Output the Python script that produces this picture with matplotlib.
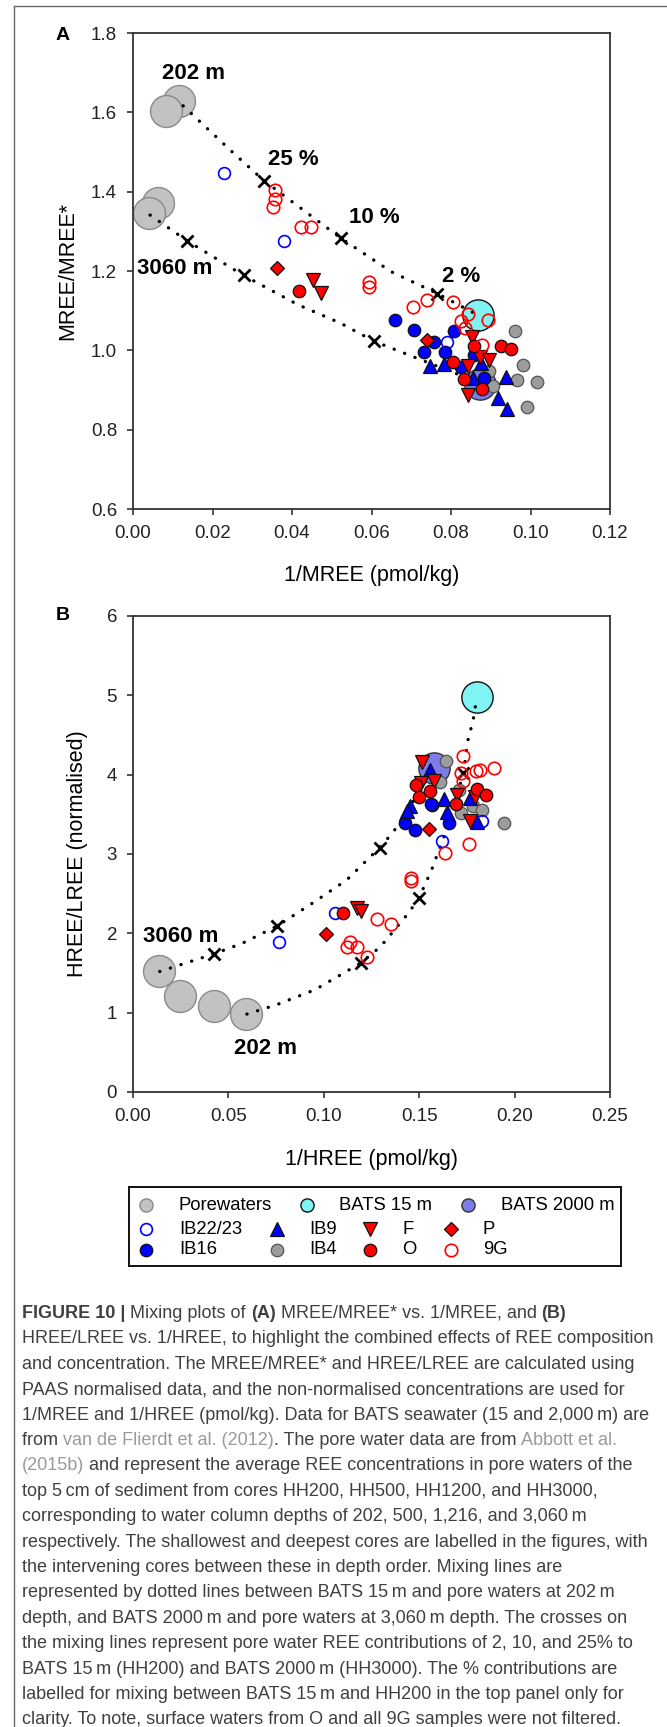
import matplotlib
matplotlib.use('Agg')
import matplotlib.pyplot as plt
from matplotlib.lines import Line2D

W, H = 667, 1727

# ---- panel A: MREE/MREE* vs 1/MREE ----
a_porewaters = [(0.0115, 1.629), (0.0083, 1.604), (0.0064, 1.371), (0.0041, 1.345)]
a_bats15 = [(0.0867, 1.089)]
a_bats2000 = [(0.0873, 0.915)]
a_ib2223 = [(0.0228, 1.4465), (0.0379, 1.2764), (0.0790, 1.0218)]
a_ib16 = [(0.0658, 1.0765), (0.0708, 1.051), (0.0808, 1.0495), (0.0758, 1.022), (0.0733, 0.9966),
          (0.0786, 0.9966), (0.0825, 0.957), (0.0858, 0.988), (0.0882, 0.929)]
a_ib9 = [(0.0748, 0.9605), (0.0782, 0.966), (0.0856, 0.929), (0.0875, 0.967), (0.0938, 0.932),
         (0.0919, 0.879), (0.0942, 0.851)]
a_f = [(0.0454, 1.1771), (0.0473, 1.1434), (0.0854, 1.034), (0.0873, 0.984), (0.0896, 0.9757),
       (0.0842, 0.9605), (0.0842, 0.887)]
a_p = [(0.0363, 1.2082), (0.0740, 1.026)]
a_ib4 = [(0.0961, 1.0495), (0.0980, 0.963), (0.0965, 0.925), (0.1017, 0.921), (0.0991, 0.858),
         (0.0896, 0.948), (0.0906, 0.910)]
a_o = [(0.0417, 1.1502), (0.0857, 1.011), (0.0925, 1.011), (0.0950, 1.0026), (0.0804, 0.971),
       (0.0833, 0.927), (0.0879, 0.9018)]
a_9g = [(0.0356, 1.4044), (0.0356, 1.3817), (0.0351, 1.3623), (0.0423, 1.3101), (0.0449, 1.3118),
        (0.0594, 1.1729), (0.0594, 1.1603), (0.0704, 1.11), (0.0739, 1.127), (0.0804, 1.1226),
        (0.0843, 1.0916), (0.0825, 1.0748), (0.0836, 1.0555), (0.0894, 1.0765), (0.0878, 1.0135)]
a_mix_shallow = [(0.0126, 1.6165), (0.0244, 1.5054), (0.0329, 1.428), (0.0468, 1.324), (0.0524, 1.282),
                 (0.065, 1.198), (0.0766, 1.143), (0.0867, 1.089)]
a_mix_deep = [(0.0043, 1.341), (0.0137, 1.2756), (0.0278, 1.189), (0.0415, 1.115), (0.0521, 1.069),
              (0.0607, 1.0227), (0.0735, 0.972), (0.082, 0.9386), (0.0873, 0.915)]
a_crosses = [(0.0329, 1.428), (0.0524, 1.282), (0.0766, 1.143),
             (0.0137, 1.2756), (0.0278, 1.189), (0.0607, 1.0227)]
a_labels = [('202 m', 0.0152, 1.697), ('25 %', 0.0404, 1.48), ('10 %', 0.0607, 1.335),
            ('2 %', 0.0826, 1.187), ('3060 m', 0.0104, 1.2066)]

# ---- panel B: HREE/LREE vs 1/HREE ----
b_porewaters = [(0.0134, 1.519), (0.0245, 1.213), (0.0425, 1.0785), (0.0592, 0.982)]
b_bats15 = [(0.1803, 4.985)]
b_bats2000 = [(0.1576, 4.084)]
b_ib2223 = [(0.1057, 2.26), (0.0767, 1.888), (0.1617, 3.168), (0.1829, 3.42)]
b_ib16 = [(0.1425, 3.395), (0.1476, 3.300), (0.1565, 3.617), (0.1655, 3.395), (0.1561, 3.631)]
b_ib9 = [(0.1558, 4.054), (0.1632, 3.694), (0.1454, 3.600), (0.1765, 3.707), (0.1435, 3.540),
         (0.1647, 3.533), (0.1803, 3.407)]
b_f = [(0.1516, 4.155), (0.1576, 3.916), (0.1510, 3.900), (0.1699, 3.748), (0.1792, 3.719),
       (0.1765, 3.42), (0.1175, 2.316), (0.1193, 2.287)]
b_p = [(0.1013, 1.988), (0.1553, 3.311)]
b_ib4 = [(0.1638, 4.168), (0.1610, 3.904), (0.1710, 3.81), (0.1783, 3.60), (0.1828, 3.554),
         (0.1946, 3.395), (0.1721, 3.512)]
b_o = [(0.1100, 2.252), (0.1483, 3.874), (0.1498, 3.719), (0.1558, 3.79), (0.1803, 3.824),
       (0.1850, 3.748), (0.1692, 3.631)]
b_9g = [(0.1732, 4.231), (0.1721, 4.021), (0.1728, 3.916), (0.1799, 4.042), (0.1821, 4.054),
        (0.1892, 4.084), (0.1278, 2.18), (0.1350, 2.114), (0.1135, 1.895), (0.1121, 1.832),
        (0.1173, 1.824), (0.1227, 1.706), (0.1458, 2.70), (0.1458, 2.665), (0.1637, 3.009),
        (0.1763, 3.122)]
b_mix_deep = [(0.014, 1.519), (0.0425, 1.7415), (0.0574, 1.876), (0.0757, 2.094), (0.0953, 2.40),
              (0.112, 2.673), (0.1293, 3.08), (0.1365, 3.28), (0.1465, 3.65), (0.1576, 4.084)]
b_mix_shallow = [(0.0597, 0.982), (0.0752, 1.0995), (0.0953, 1.288), (0.1193, 1.624), (0.1298, 1.834),
                 (0.1443, 2.2535), (0.1498, 2.442), (0.1565, 2.799), (0.161, 3.093), (0.1654, 3.366),
                 (0.1732, 4.021), (0.1754, 4.42), (0.1783, 4.69), (0.1803, 4.985)]
b_crosses = [(0.0425, 1.7415), (0.0757, 2.094), (0.1293, 3.08),
             (0.1193, 1.624), (0.1498, 2.442), (0.1732, 4.021)]
b_labels = [('3060 m', 0.0252, 1.96), ('202 m', 0.0697, 0.554)]

caption = [
    [('FIGURE 10 |', 'bold', 'k'), (' Mixing plots of ', 'normal', 'k'), ('(A)', 'bold', 'k'),
     (' MREE/MREE* vs. 1/MREE, and ', 'normal', 'k'), ('(B)', 'bold', 'k')],
    [('HREE/LREE vs. 1/HREE, to highlight the combined effects of REE composition', 'normal', 'k')],
    [('and concentration. The MREE/MREE* and HREE/LREE are calculated using', 'normal', 'k')],
    [('PAAS normalised data, and the non-normalised concentrations are used for', 'normal', 'k')],
    [('1/MREE and 1/HREE (pmol/kg). Data for BATS seawater (15 and 2,000\u2009m) are', 'normal', 'k')],
    [('from ', 'normal', 'k'), ('van de Flierdt et al. (2012)', 'normal', 'g'),
     ('. The pore water data are from ', 'normal', 'k'), ('Abbott et al.', 'normal', 'g')],
    [('(2015b)', 'normal', 'g'),
     (' and represent the average REE concentrations in pore waters of the', 'normal', 'k')],
    [('top 5\u2009cm of sediment from cores HH200, HH500, HH1200, and HH3000,', 'normal', 'k')],
    [('corresponding to water column depths of 202, 500, 1,216, and 3,060\u2009m', 'normal', 'k')],
    [('respectively. The shallowest and deepest cores are labelled in the figures, with', 'normal', 'k')],
    [('the intervening cores between these in depth order. Mixing lines are', 'normal', 'k')],
    [('represented by dotted lines between BATS 15\u2009m and pore waters at 202\u2009m', 'normal', 'k')],
    [('depth, and BATS 2000\u2009m and pore waters at 3,060\u2009m depth. The crosses on', 'normal', 'k')],
    [('the mixing lines represent pore water REE contributions of 2, 10, and 25% to', 'normal', 'k')],
    [('BATS 15\u2009m (HH200) and BATS 2000\u2009m (HH3000). The % contributions are', 'normal', 'k')],
    [('labelled for mixing between BATS 15\u2009m and HH200 in the top panel only for', 'normal', 'k')],
    [('clarity. To note, surface waters from O and all 9G samples were not filtered.', 'normal', 'k')],
]

plt.rcParams['font.family'] = ['Liberation Sans', 'DejaVu Sans']

styles = {
    'Porewaters': dict(marker='o', ms=23, mfc='#c2c2c2', mec='#8a8a8a', mew=1.0),
    'BATS 15 m': dict(marker='o', ms=22.5, mfc='#80f4f4', mec='#111111', mew=1.0),
    'BATS 2000 m': dict(marker='o', ms=22.5, mfc='#7c7ce6', mec='#333333', mew=1.0),
    'IB22/23': dict(marker='o', ms=8.5, mfc='none', mec='#0000ff', mew=1.2),
    'IB16': dict(marker='o', ms=9, mfc='#0000ff', mec='#111111', mew=0.9),
    'IB9': dict(marker='^', ms=9.5, mfc='#0000ff', mec='#111111', mew=0.9),
    'IB4': dict(marker='o', ms=9, mfc='#9c9c9c', mec='#555555', mew=0.9),
    'F': dict(marker='v', ms=9.5, mfc='#ff0000', mec='#111111', mew=0.9),
    'P': dict(marker='D', ms=7.5, mfc='#ff0000', mec='#111111', mew=0.9),
    'O': dict(marker='o', ms=9, mfc='#ff0000', mec='#111111', mew=0.9),
    '9G': dict(marker='o', ms=9, mfc='none', mec='#ff0000', mew=1.2),
}

fig = plt.figure(figsize=(W / 100, H / 100), dpi=100)
fig.patch.set_facecolor('white')


def px_axes(left, top, right, bottom):
    return fig.add_axes([left / W, 1 - bottom / H, (right - left) / W, (bottom - top) / H])


def plot_pts(ax, pts, key, z):
    xs = [p[0] for p in pts]
    ys = [p[1] for p in pts]
    ax.plot(xs, ys, ls='none', zorder=z, **styles[key])


def plot_mix(ax, pts):
    xs = [p[0] for p in pts]
    ys = [p[1] for p in pts]
    ax.plot(xs, ys, color='black', lw=2.4, ls=(0, (0.05, 3.3)), dash_capstyle='round', zorder=3)


def style_axes(ax):
    for s in ax.spines.values():
        s.set_linewidth(1.3)
        s.set_color('#333333')
    ax.tick_params(direction='out', length=4.5, width=1.1, labelsize=13.5, pad=7, colors='#222222')


def panel(ax, pw, b15, b2000, groups, mixes, crosses, labels):
    plot_pts(ax, pw, 'Porewaters', 1)
    plot_pts(ax, b15, 'BATS 15 m', 2)
    plot_pts(ax, b2000, 'BATS 2000 m', 2)
    for m in mixes:
        plot_mix(ax, m)
    ax.plot([c[0] for c in crosses], [c[1] for c in crosses], ls='none', marker='x',
            ms=9, mew=2.0, color='black', zorder=4)
    z = 5
    for key, pts in groups:
        plot_pts(ax, pts, key, z)
        z += 0.1
    for txt, x, y in labels:
        ax.text(x, y, txt, ha='center', va='center', fontsize=16, fontweight='bold', zorder=8)
    style_axes(ax)


ax_a = px_axes(133, 33, 610, 509)
panel(ax_a, a_porewaters, a_bats15, a_bats2000,
      [('IB4', a_ib4), ('IB16', a_ib16), ('IB9', a_ib9), ('IB22/23', a_ib2223), ('P', a_p),
       ('F', a_f), ('O', a_o), ('9G', a_9g)],
      [a_mix_shallow, a_mix_deep], a_crosses, a_labels)
ax_a.set_xlim(0, 0.12)
ax_a.set_ylim(0.6, 1.8)
ax_a.set_xticks([0, 0.02, 0.04, 0.06, 0.08, 0.10, 0.12])
ax_a.set_xticklabels(['0.00', '0.02', '0.04', '0.06', '0.08', '0.10', '0.12'])
ax_a.set_yticks([0.6, 0.8, 1.0, 1.2, 1.4, 1.6, 1.8])
ax_a.set_yticklabels(['0.6', '0.8', '1.0', '1.2', '1.4', '1.6', '1.8'])
ax_a.set_xlabel('1/MREE (pmol/kg)', fontsize=15.5, va='center')
ax_a.xaxis.set_label_coords(0.5, (509 - 575) / 476)
ax_a.set_ylabel('MREE/MREE*', fontsize=15.5, va='center')
ax_a.yaxis.set_label_coords((68 - 133) / 477, 0.5)

ax_b = px_axes(133, 616, 610, 1092)
panel(ax_b, b_porewaters, b_bats15, b_bats2000,
      [('IB4', b_ib4), ('IB16', b_ib16), ('IB9', b_ib9), ('IB22/23', b_ib2223), ('P', b_p),
       ('F', b_f), ('O', b_o), ('9G', b_9g)],
      [b_mix_shallow, b_mix_deep], b_crosses, b_labels)
ax_b.set_xlim(0, 0.25)
ax_b.set_ylim(0, 6)
ax_b.set_xticks([0, 0.05, 0.10, 0.15, 0.20, 0.25])
ax_b.set_xticklabels(['0.00', '0.05', '0.10', '0.15', '0.20', '0.25'])
ax_b.set_yticks([0, 1, 2, 3, 4, 5, 6])
ax_b.set_xlabel('1/HREE (pmol/kg)', fontsize=15.5, va='center')
ax_b.xaxis.set_label_coords(0.5, (1092 - 1160) / 476)
ax_b.set_ylabel('HREE/LREE (normalised)', fontsize=15.5, va='center')
ax_b.yaxis.set_label_coords((77 - 133) / 477, 0.5)

fig.text(63 / W, 1 - 36 / H, 'A', fontsize=14, fontweight='bold', ha='center', va='center')
fig.text(63 / W, 1 - 616 / H, 'B', fontsize=14, fontweight='bold', ha='center', va='center')

# legend box, drawn in pixel units
lax = px_axes(129, 1187, 621, 1266)
lax.set_xlim(129, 621)
lax.set_ylim(1266, 1187)
lax.set_xticks([])
lax.set_yticks([])
for s in lax.spines.values():
    s.set_linewidth(1.4)
    s.set_color('#111111')
legend_rows = [
    (1205, [('Porewaters', 146, 179), ('BATS 15 m', 307, 339), ('BATS 2000 m', 468, 501)]),
    (1229, [('IB22/23', 146, 179), ('IB9', 277, 309), ('F', 370, 402), ('P', 451, 483)]),
    (1250, [('IB16', 146, 179), ('IB4', 277, 309), ('O', 370, 402), ('9G', 451, 483)]),
]
for y, entries in legend_rows:
    for name, mx, tx in entries:
        st = dict(styles[name])
        if st['ms'] > 15:
            st['ms'] = 9.5
        lax.plot([mx], [y], ls='none', **st)
        lax.text(tx, y, name, fontsize=13.3, va='center', ha='left')

# outer frame (top and left edges)
fig.add_artist(Line2D([14 / W, 1], [1 - 6 / H, 1 - 6 / H], transform=fig.transFigure,
                      color='#666666', lw=1.0))
fig.add_artist(Line2D([14 / W, 14 / W], [1 - 6 / H, 0], transform=fig.transFigure,
                      color='#666666', lw=1.0))

# caption, run by run so bold and grey pieces sit inline
renderer = fig.canvas.get_renderer()
cap_colors = {'k': '#404040', 'g': '#9a9a9a'}
cap_size = 13.0


def run_width(s, weight):
    t = fig.text(0, 0, s + '|', fontsize=cap_size, fontweight=weight)
    w1 = t.get_window_extent(renderer).width
    t.remove()
    t = fig.text(0, 0, '|', fontsize=cap_size, fontweight=weight)
    w2 = t.get_window_extent(renderer).width
    t.remove()
    return w1 - w2


for i, runs in enumerate(caption):
    x = 22.0
    y = 1318 + i * 25.4
    for s, weight, c in runs:
        fig.text(x / W, 1 - y / H, s, fontsize=cap_size, fontweight=weight,
                 color=cap_colors[c], va='baseline', ha='left')
        x += run_width(s, weight)

fig.savefig('out.png', dpi=100)
